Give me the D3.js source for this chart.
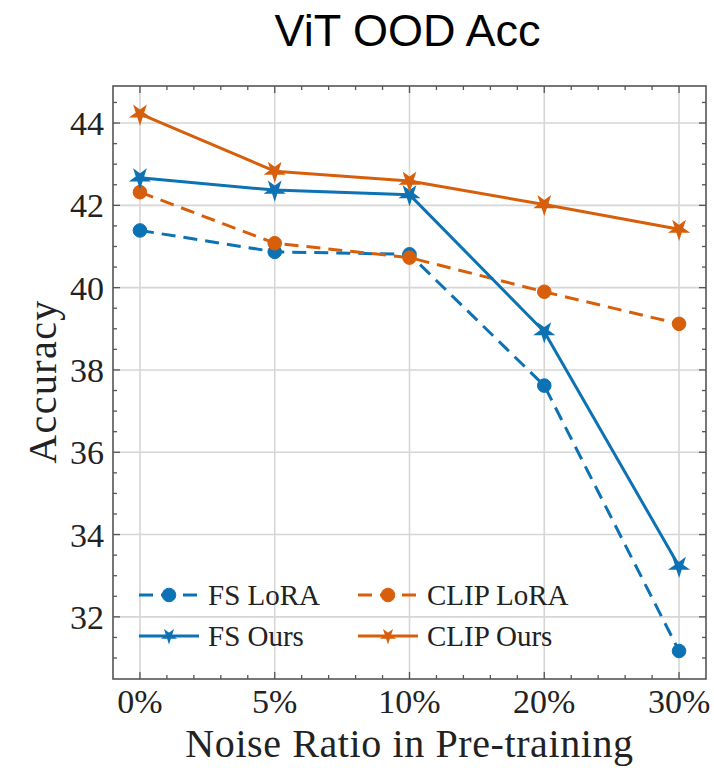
<!DOCTYPE html>
<html>
<head>
<meta charset="utf-8">
<script src="https://cdn.jsdelivr.net/npm/d3@7"></script>
<style>
  html, body { margin: 0; padding: 0; background: #fff; }
  svg { display: block; }
</style>
</head>
<body>
<div id="chart"></div>
<script>
// Noise ratios used during pre-training
const categories = ["0%", "5%", "10%", "20%", "30%"];

// OOD accuracy of each method per noise ratio
const fsLora   = [41.39, 40.87, 40.81, 37.62, 31.17];
const clipLora = [42.32, 41.08, 40.73, 39.90, 39.12];
const fsOurs   = [42.67, 42.37, 42.26, 38.93, 33.23];
const clipOurs = [44.22, 42.83, 42.59, 42.02, 41.42];

const yTicks = [32, 34, 36, 38, 40, 42, 44];

const BLUE = "#0C72B4";
const ORANGE = "#D75F0C";

const series = [
  { name: "FS LoRA",   values: fsLora,   color: BLUE,   dashed: true,  marker: "circle" },
  { name: "CLIP LoRA", values: clipLora, color: ORANGE, dashed: true,  marker: "circle" },
  { name: "FS Ours",   values: fsOurs,   color: BLUE,   dashed: false, marker: "star" },
  { name: "CLIP Ours", values: clipOurs, color: ORANGE, dashed: false, marker: "star" }
];

const W = 714, H = 768;
const frame = { left: 113, right: 706, top: 86, bottom: 679 };

const svg = d3.select("#chart").append("svg")
  .attr("width", W).attr("height", H);

const x = d3.scaleLinear().domain([-0.2, categories.length - 1 + 0.2])
  .range([frame.left, frame.right]);
const y = d3.scaleLinear().domain([30.49, 44.9])
  .range([frame.bottom, frame.top]);

const serif = "'Liberation Serif', 'Times New Roman', serif";
const frameColor = "#555";

// grid
const grid = svg.append("g");
grid.selectAll("line.gx").data(categories.map((d, i) => i)).join("line")
  .attr("x1", d => x(d)).attr("x2", d => x(d))
  .attr("y1", frame.top).attr("y2", frame.bottom)
  .attr("stroke", "#d6d6d6").attr("stroke-width", 1.6);
grid.selectAll("line.gy").data(yTicks).join("line")
  .attr("x1", frame.left).attr("x2", frame.right)
  .attr("y1", d => y(d)).attr("y2", d => y(d))
  .attr("stroke", "#d6d6d6").attr("stroke-width", 1.6);

// inward ticks on all four sides
const majorLen = 7, minorLen = 4;
const xMinor = d3.range(0, categories.length - 1 + 0.001, 0.2)
  .filter(v => Math.abs(v - Math.round(v)) > 1e-6);
const yMinor = d3.range(31, 45, 0.5).filter(v => v % 2 !== 0);

const ticks = svg.append("g").attr("stroke", frameColor).attr("stroke-width", 1.3);
function hTicks(vals, len) {
  vals.forEach(v => {
    ticks.append("line").attr("x1", x(v)).attr("x2", x(v))
      .attr("y1", frame.bottom).attr("y2", frame.bottom - len);
    ticks.append("line").attr("x1", x(v)).attr("x2", x(v))
      .attr("y1", frame.top).attr("y2", frame.top + len);
  });
}
function vTicks(vals, len) {
  vals.forEach(v => {
    ticks.append("line").attr("y1", y(v)).attr("y2", y(v))
      .attr("x1", frame.left).attr("x2", frame.left + len);
    ticks.append("line").attr("y1", y(v)).attr("y2", y(v))
      .attr("x1", frame.right).attr("x2", frame.right - len);
  });
}
hTicks(categories.map((d, i) => i), majorLen);
hTicks(xMinor, minorLen);
vTicks(yTicks, majorLen);
vTicks(yMinor, minorLen);

// series lines
const line = d3.line().x((d, i) => x(i)).y(d => y(d));
const plot = svg.append("g");
series.forEach(s => {
  plot.append("path").datum(s.values)
    .attr("d", line)
    .attr("fill", "none")
    .attr("stroke", s.color)
    .attr("stroke-width", 3)
    .attr("stroke-linejoin", "round")
    .attr("stroke-dasharray", s.dashed ? "14,8" : null);
});
const starPath = r => d3.symbol(d3.symbolStar, r * r / 0.8908)();
function marker(g, s, cx, cy, small) {
  if (s.marker === "circle") {
    g.append("circle").attr("cx", cx).attr("cy", cy).attr("r", 6.8)
      .attr("fill", s.color).attr("stroke", s.color).attr("stroke-width", 1);
  } else {
    g.append("path").attr("d", starPath(small ? 6 : 8.5))
      .attr("transform", `translate(${cx},${cy}) rotate(180)`)
      .attr("fill", s.color).attr("stroke", s.color)
      .attr("stroke-width", small ? 1.6 : 2).attr("stroke-linejoin", "miter");
  }
}
series.forEach(s => {
  s.values.forEach((v, i) => marker(plot, s, x(i), y(v), false));
});

// frame
svg.append("rect")
  .attr("x", frame.left).attr("y", frame.top)
  .attr("width", frame.right - frame.left).attr("height", frame.bottom - frame.top)
  .attr("fill", "none").attr("stroke", frameColor).attr("stroke-width", 1.6);

// tick labels
svg.append("g").selectAll("text").data(yTicks).join("text")
  .attr("x", frame.left - 9).attr("y", d => y(d) + 12)
  .attr("text-anchor", "end")
  .attr("font-family", serif).attr("font-size", 34).attr("fill", "#222")
  .text(d => d);
svg.append("g").selectAll("text").data(categories).join("text")
  .attr("x", (d, i) => x(i)).attr("y", frame.bottom + 34)
  .attr("text-anchor", "middle")
  .attr("font-family", serif).attr("font-size", 34).attr("fill", "#222")
  .text(d => d);

// axis titles
svg.append("text")
  .attr("x", (frame.left + frame.right) / 2).attr("y", 757)
  .attr("text-anchor", "middle")
  .attr("font-family", serif).attr("font-size", 40).attr("fill", "#222")
  .attr("letter-spacing", 0.6)
  .text("Noise Ratio in Pre-training");
svg.append("text")
  .attr("transform", `translate(56,${(frame.top + frame.bottom) / 2 - 1}) rotate(-90)`)
  .attr("text-anchor", "middle")
  .attr("font-family", serif).attr("font-size", 40).attr("fill", "#222")
  .attr("letter-spacing", 1.4)
  .text("Accuracy");

// title
svg.append("text")
  .attr("x", (frame.left + frame.right) / 2 - 2).attr("y", 46)
  .attr("text-anchor", "middle")
  .attr("font-family", "'Liberation Sans', Arial, sans-serif").attr("font-size", 45)
  .attr("fill", "#000")
  .text("ViT OOD Acc");

// legend, two columns
const legendCols = [139, 358];
const legendRows = [595, 636];
const handleLen = 60;
const legend = svg.append("g");
series.forEach((s, k) => {
  const cx = legendCols[k % 2], cy = legendRows[Math.floor(k / 2)];
  legend.append("line")
    .attr("x1", cx).attr("x2", cx + handleLen).attr("y1", cy).attr("y2", cy)
    .attr("stroke", s.color).attr("stroke-width", 3)
    .attr("stroke-dasharray", s.dashed ? "14,8" : null);
  marker(legend, s, cx + handleLen / 2, cy, true);
  legend.append("text")
    .attr("x", cx + handleLen + 9).attr("y", cy + 10)
    .attr("font-family", serif).attr("font-size", 29).attr("fill", "#222")
    .text(s.name);
});
</script>
</body>
</html>
